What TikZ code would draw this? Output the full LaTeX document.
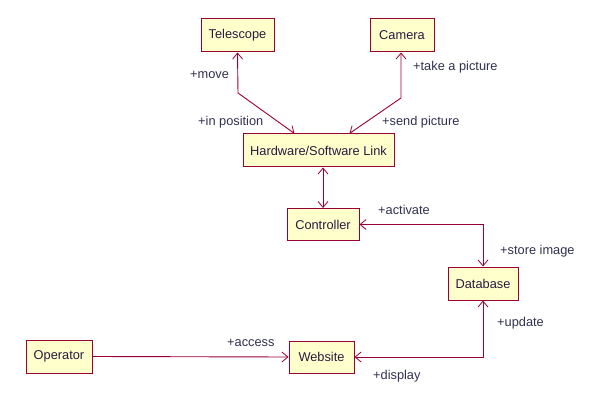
\documentclass[tikz,border=0pt]{standalone}
\usepackage{fontspec}
\setmainfont{Liberation Sans}
\usetikzlibrary{arrows.meta}
\definecolor{boxfill}{HTML}{FFFFCC}
\definecolor{boxline}{HTML}{990033}
\definecolor{txt}{HTML}{2A1A40}
\definecolor{lbl}{HTML}{303050}
\begin{document}
\begin{tikzpicture}[x=1pt,y=-1pt,
  cls/.style={draw=boxline,fill=boxfill,line width=1pt,inner sep=0pt,text=txt,font=\fontsize{12.8}{14}\selectfont},
  lab/.style={anchor=west,inner sep=0pt,text=lbl,font=\fontsize{12.8}{14}\selectfont},
  conn/.style={draw=boxline,line width=0.9pt},
  tip/.tip={Straight Barb[length=6pt,width=10pt,line width=0.8pt]}]
\useasboundingbox (0,0) rectangle (592,409);
\node[cls,minimum width=73pt,minimum height=33pt] (tel) at (237.5,35.5) {Telescope};
\node[cls,minimum width=64pt,minimum height=33pt] (cam) at (402,35.5) {Camera};
\node[cls,minimum width=151pt,minimum height=33pt] (hw) at (318.5,150.5) {Hardware/Software Link};
\node[cls,minimum width=72pt,minimum height=32pt] (ctrl) at (323,224.5) {Controller};
\node[cls,minimum width=70pt,minimum height=33pt] (db) at (483,283.5) {Database};
\node[cls,minimum width=66pt,minimum height=33pt] (op) at (59,356.5) {Operator};
\node[cls,minimum width=65pt,minimum height=32pt] (web) at (321.5,357) {Website};
\coordinate (t1) at (238,93);
\coordinate (c1) at (401,98);
\draw[conn,tip-tip] (tel.south) -- (t1) -- ([xshift=52pt]hw.north west);
\draw[conn,tip-tip] (cam.south -| c1) -- (c1) -- ([xshift=107pt]hw.north west);
\draw[conn,tip-tip] (hw.south -| ctrl.north) -- (ctrl.north);
\draw[conn,tip-tip] (ctrl.east) -| (db.north);
\draw[conn,tip-tip] (db.south) |- (web.east);
\draw[conn,-tip] (op.east) -- (web.west);
\node[lab] (l1) at (190,75) {+move};
\node[lab] (l2) at (198,122) {+in position};
\node[lab] (l3) at (413,67) {+take a picture};
\node[lab] (l4) at (382,122) {+send picture};
\node[lab] (l5) at (378,210) {+activate};
\node[lab] (l6) at (500,251) {+store image};
\node[lab] (l7) at (497,323) {+update};
\node[lab] (l8) at (373,376) {+display};
\node[lab] (l9) at (227,343) {+access};
\end{tikzpicture}
\end{document}
